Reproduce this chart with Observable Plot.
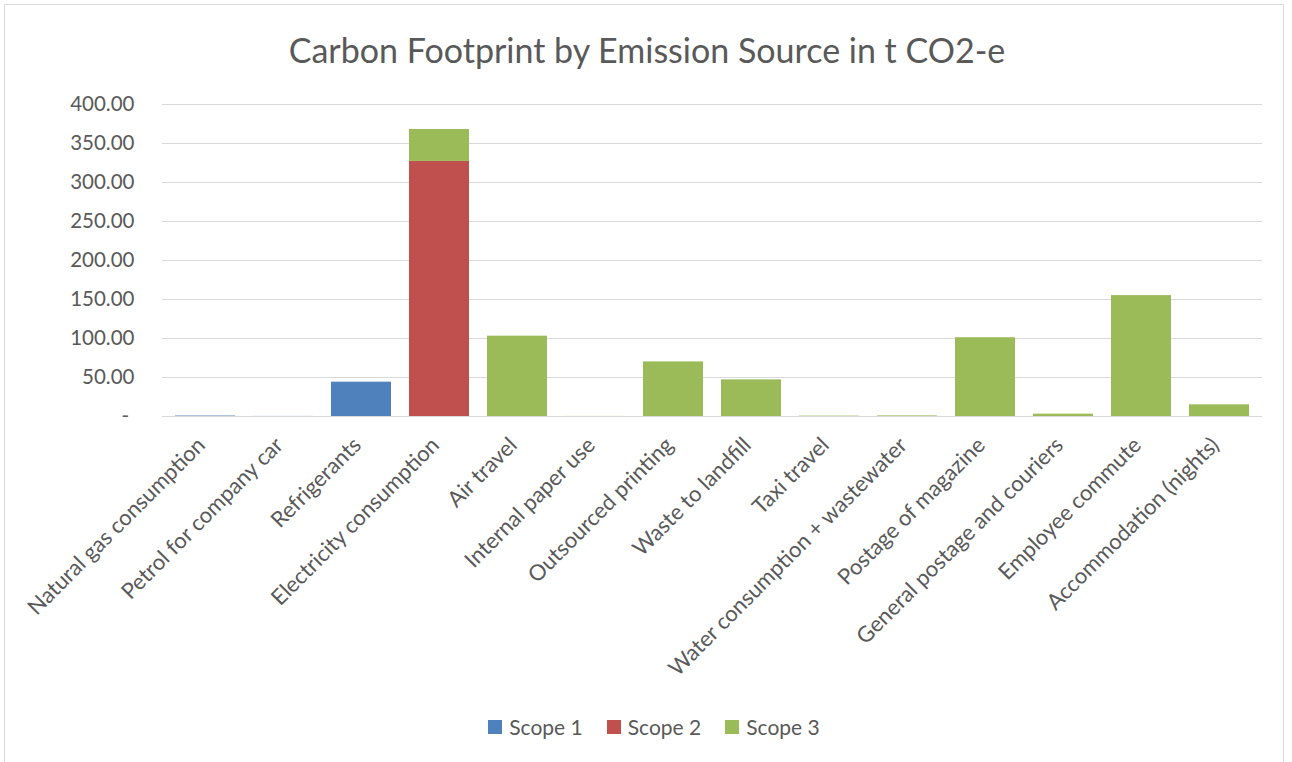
<!DOCTYPE html>
<html>
<head>
<meta charset="utf-8">
<script src="https://cdn.jsdelivr.net/npm/d3@7"></script>
<script src="https://cdn.jsdelivr.net/npm/@observablehq/plot@0.6"></script>
<style>
  html, body { margin: 0; padding: 0; background: #fff; }
  #frame { position: absolute; left: 4px; top: 4px; width: 1280px; height: 760px; border: 1px solid #d9d9d9; box-sizing: border-box; font-family: Lato, "Open Sans", sans-serif; color: #595959; }
  #title { position: absolute; left: 3px; width: 100%; top: 25px; text-align: center; font-size: 34px; line-height: 40px; color: #595959; }
  #chart { position: absolute; left: 0; top: 70px; }
  #legend { position: absolute; left: 10px; width: 100%; top: 709px; display: flex; justify-content: center; gap: 24px; font-size: 21px; }
  .item { display: flex; align-items: center; gap: 7px; }
  .sw { width: 14px; height: 14px; display: inline-block; }
</style>
</head>
<body>
<div id="frame">
  <div id="title">Carbon Footprint by Emission Source in t CO2-e</div>
  <div id="chart"></div>
  <div id="legend"></div>
</div>
<script>
const categories = ["Natural gas consumption", "Petrol for company car", "Refrigerants", "Electricity consumption", "Air travel", "Internal paper use", "Outsourced printing", "Waste to landfill", "Taxi travel", "Water consumption + wastewater", "Postage of magazine", "General postage and couriers", "Employee commute", "Accommodation (nights)"];
const scope1 = [0.6, 0.1, 44, 0, 0, 0, 0, 0, 0, 0, 0, 0, 0, 0];
const scope2 = [0, 0, 0, 327, 0, 0, 0, 0, 0, 0, 0, 0, 0, 0];
const scope3 = [0, 0, 0, 41, 103, 0.1, 70, 47, 0.5, 0.8, 101, 3, 155, 15];
const series = ["Scope 1", "Scope 2", "Scope 3"];
const colors = ["#4f81bd", "#c0504d", "#9bbb59"];
const yTicks = [50, 100, 150, 200, 250, 300, 350, 400];

const data = [];
categories.forEach((c, i) => {
  [scope1, scope2, scope3].forEach((arr, k) => {
    data.push({category: c, scope: series[k], value: arr[i]});
  });
});

const chart = Plot.plot({
  width: 1278,
  height: 641,
  marginLeft: 157,
  marginRight: 21,
  marginTop: 29,
  marginBottom: 300,
  style: {fontFamily: "Lato, 'Open Sans', sans-serif", fontSize: "20px", color: "#595959", background: "transparent"},
  x: {domain: categories, paddingInner: 0.235, paddingOuter: 0.1175, label: null},
  y: {domain: [0, 400], label: null},
  color: {domain: series, range: colors},
  marks: [
    Plot.gridY([0, ...yTicks], {stroke: "#d9d9d9", strokeOpacity: 1, strokeWidth: 1}),
    Plot.barY(data, Plot.stackY({x: "category", y: "value", fill: "scope", order: series})),
    Plot.axisX({tickSize: 0, tickPadding: 25, dx: -4, tickRotate: -45, fontSize: 22, fill: "#595959"}),
    Plot.axisY({ticks: yTicks, tickSize: 0, tickPadding: 28, tickFormat: d3.format(".2f"), fontSize: 20.5, fill: "#595959"}),
    Plot.text(["-"], {y: [0], frameAnchor: "left", dx: -41, text: d => d, fontSize: 20.5, fill: "#595959"})
  ]
});
document.getElementById("chart").appendChild(chart);

const legend = document.getElementById("legend");
series.forEach((s, k) => {
  const it = document.createElement("div");
  it.className = "item";
  const sw = document.createElement("span");
  sw.className = "sw";
  sw.style.background = colors[k];
  const tx = document.createElement("span");
  tx.textContent = s;
  it.appendChild(sw); it.appendChild(tx);
  legend.appendChild(it);
});
</script>
</body>
</html>
